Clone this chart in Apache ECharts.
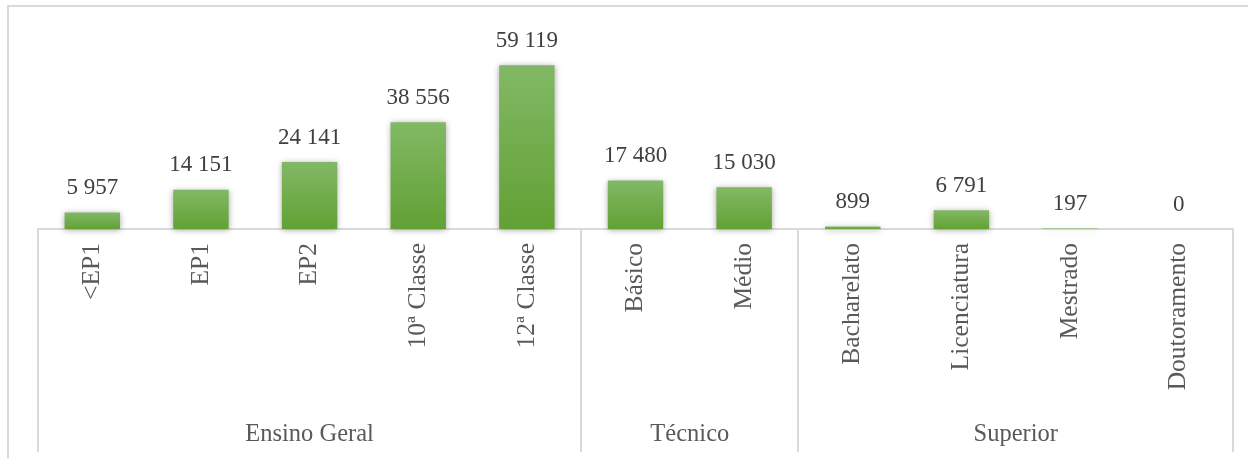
<!DOCTYPE html>
<html>
<head>
<meta charset="utf-8">
<script src="https://cdn.jsdelivr.net/npm/echarts@6/dist/echarts.min.js"></script>
<style>
  html, body { margin: 0; padding: 0; background: #fff; }
  #chart { width: 1248px; height: 458px; }
</style>
</head>
<body>
<div id="chart"></div>
<script>
// Education levels (inner axis level) and their counts
const categories = ['<EP1', 'EP1', 'EP2', '10ª Classe', '12ª Classe',
                    'Básico', 'Médio',
                    'Bacharelato', 'Licenciatura', 'Mestrado', 'Doutoramento'];
const values = [5957, 14151, 24141, 38556, 59119, 17480, 15030, 899, 6791, 197, 0];

// Outer axis level: group names and how many categories each one spans
const groups = ['Ensino Geral', 'Técnico', 'Superior'];
const groupSizes = [5, 2, 4];

const SERIF = '"Liberation Serif", "DejaVu Serif", serif';
const GRID_LINE = '#d9d9d9';

const fmt = v => String(v).replace(/\B(?=(\d{3})+(?!\d))/g, ' ');

const chart = echarts.init(document.getElementById('chart'), null, { renderer: 'canvas' });

chart.setOption({
  animation: false,
  backgroundColor: '#ffffff',
  grid: { left: 38, right: 15, top: 35, bottom: 229, containLabel: false },
  xAxis: {
    type: 'category',
    data: categories,
    axisLine: { show: true, lineStyle: { color: GRID_LINE, width: 2 } },
    axisTick: { show: false },
    axisLabel: {
      rotate: 90,
      margin: 14,
      color: '#595959',
      fontFamily: SERIF,
      fontSize: 25.5
    }
  },
  yAxis: {
    type: 'value',
    min: 0,
    max: 70000,
    show: false,
    splitLine: { show: false }
  },
  series: [{
    type: 'bar',
    data: values,
    barWidth: '51%',
    itemStyle: {
      color: new echarts.graphic.LinearGradient(0, 0, 0, 1, [
        { offset: 0, color: '#82b865' },
        { offset: 1, color: '#62a134' }
      ]),
      shadowBlur: 6,
      shadowColor: 'rgba(0,0,0,0.35)',
      shadowOffsetY: 1
    },
    label: {
      show: true,
      position: 'top',
      distance: 13,
      color: '#404040',
      fontFamily: SERIF,
      fontSize: 23,
      formatter: p => fmt(p.value)
    }
  }]
});

// Outer category level: separators between groups and the group names,
// positioned through the category axis scale.
function drawGroups() {
  const xAt = i => chart.convertToPixel({ xAxisIndex: 0 }, categories[i]);
  const band = xAt(1) - xAt(0);
  const yBase = chart.convertToPixel({ yAxisIndex: 0 }, 0);
  const yEnd = 452;
  const elements = [];

  // frame around the chart area
  elements.push({
    type: 'rect',
    shape: { x: 8, y: 6, width: 1270, height: 480 },
    style: { fill: null, stroke: GRID_LINE, lineWidth: 2 },
    silent: true
  });

  let start = 0;
  const edges = [xAt(0) - band / 2];
  groups.forEach((name, gi) => {
    const end = start + groupSizes[gi] - 1;
    const left = xAt(start) - band / 2;
    const right = xAt(end) + band / 2;
    edges.push(right);
    elements.push({
      type: 'text',
      x: (left + right) / 2,
      y: 435,
      style: {
        text: name,
        fill: '#595959',
        font: '24.5px ' + SERIF,
        align: 'center',
        verticalAlign: 'middle'
      },
      silent: true
    });
    start = end + 1;
  });
  edges.forEach(x => {
    elements.push({
      type: 'line',
      shape: { x1: Math.round(x), y1: yBase, x2: Math.round(x), y2: yEnd },
      style: { stroke: GRID_LINE, lineWidth: 2 },
      silent: true
    });
  });
  chart.setOption({ graphic: { elements } });
}
drawGroups();
</script>
</body>
</html>
